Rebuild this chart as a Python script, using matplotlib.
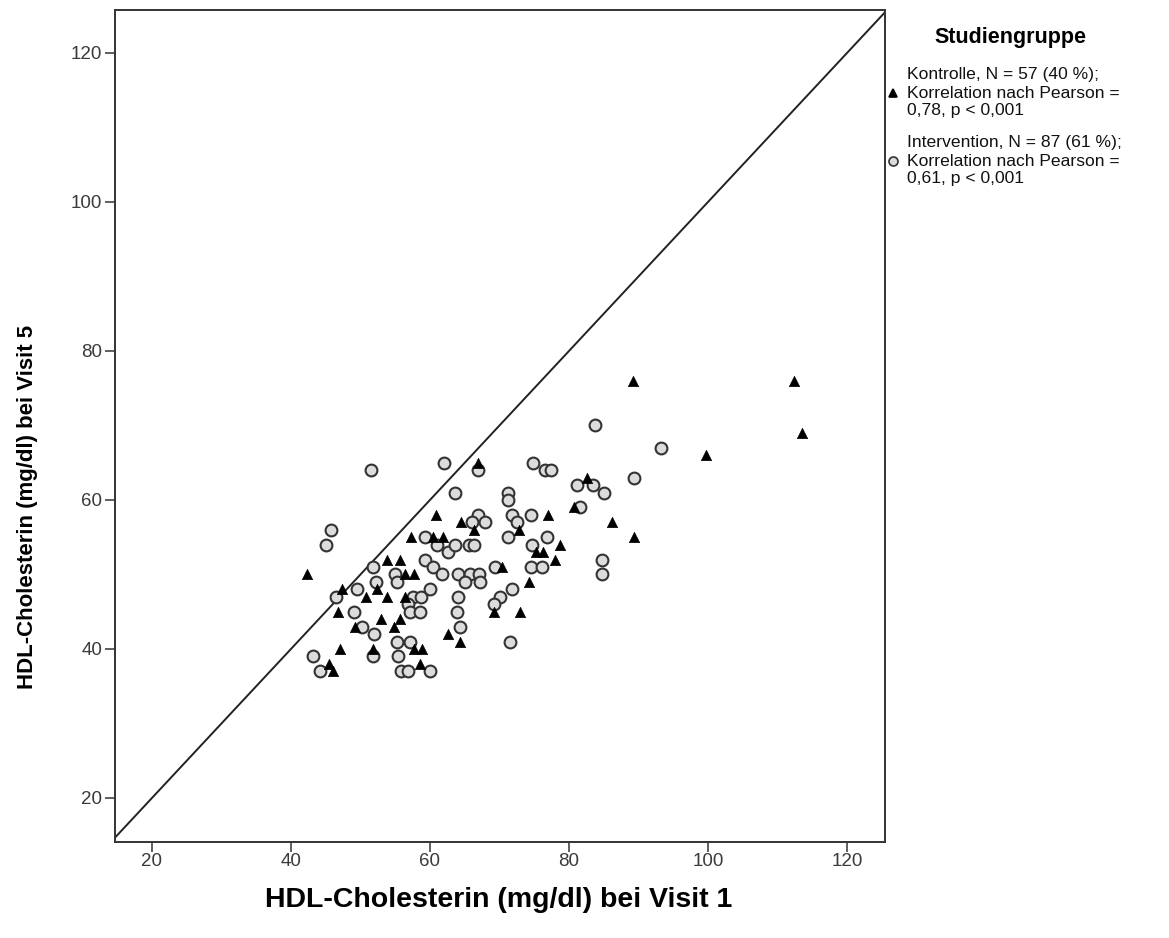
import matplotlib
matplotlib.use("Agg")
import matplotlib.pyplot as plt
from matplotlib.lines import Line2D

# Kontrolle (triangles): HDL visit 1, HDL visit 5
kontrolle_v1 = [42.3, 60.9, 57.3, 60.4, 61.9, 53.8, 55.7, 66.9, 64.5, 66.3, 82.6, 80.7, 77.0, 86.2,
                72.8, 78.7, 75.3, 76.3, 78.0, 89.4, 89.2, 112.4, 113.5, 99.7, 56.4, 57.7, 47.3, 50.8,
                52.4, 53.8, 56.4, 46.8, 53.0, 55.7, 54.8, 49.2, 62.6, 64.3, 57.7, 58.8, 47.1, 51.8,
                45.5, 46.0, 58.6, 70.4, 74.2, 69.2, 73.0]
kontrolle_v5 = [50, 58, 55, 55, 55, 52, 52, 65, 57, 56, 63, 59, 58, 57,
                56, 54, 53, 53, 52, 55, 76, 76, 69, 66, 50, 50, 48, 47,
                48, 47, 47, 45, 44, 44, 43, 43, 42, 41, 40, 40, 40, 40,
                38, 37, 38, 51, 49, 45, 45]

# Intervention (circles)
intervention_v1 = [51.5, 62.0, 63.6, 45.8, 45.0, 59.3, 61.0, 62.6, 66.9, 66.9, 66.0, 67.9, 63.6, 65.6,
                   66.3, 59.3, 60.4, 61.7, 51.8, 74.8, 76.5, 77.4, 81.2, 83.5, 85.0, 71.2, 71.2, 81.6,
                   71.8, 74.5, 72.5, 71.2, 76.8, 74.7, 84.7, 83.7, 93.2, 89.4, 69.4, 74.5, 76.1, 84.7,
                   55.0, 55.3, 52.2, 49.5, 46.5, 57.6, 58.7, 60.0, 56.8, 57.1, 58.6, 49.1, 50.2, 51.9,
                   55.3, 57.1, 51.8, 55.4, 43.2, 44.2, 55.8, 56.8, 60.0, 64.0, 65.8, 67.1, 65.0, 67.2,
                   71.8, 70.1, 69.2, 64.0, 63.9, 64.3, 71.5]
intervention_v5 = [64, 65, 61, 56, 54, 55, 54, 53, 64, 58, 57, 57, 54, 54,
                   54, 52, 51, 50, 51, 65, 64, 64, 62, 62, 61, 61, 60, 59,
                   58, 58, 57, 55, 55, 54, 52, 70, 67, 63, 51, 51, 51, 50,
                   50, 49, 49, 48, 47, 47, 47, 48, 46, 45, 45, 45, 43, 42,
                   41, 41, 39, 39, 39, 37, 37, 37, 37, 50, 50, 50, 49, 49,
                   48, 47, 46, 47, 45, 43, 41]

ticks = [20, 40, 60, 80, 100, 120]
x_label = "HDL-Cholesterin (mg/dl) bei Visit 1"
y_label = "HDL-Cholesterin (mg/dl) bei Visit 5"
legend_title = "Studiengruppe"
legend_k = ["Kontrolle, N = 57 (40 %);", "Korrelation nach Pearson =", "0,78, p < 0,001"]
legend_i = ["Intervention, N = 87 (61 %);", "Korrelation nach Pearson =", "0,61, p < 0,001"]

plt.rcParams['font.family'] = ['Liberation Sans', 'DejaVu Sans']

W, H = 1169, 938
fig = plt.figure(figsize=(W / 100, H / 100), dpi=100)
AX_L, AX_R, AX_T, AX_B = 115, 885, 10, 842
ax = fig.add_axes([AX_L / W, 1 - AX_B / H, (AX_R - AX_L) / W, (AX_B - AX_T) / H])
ax.set_xlim(14.68, 125.47)
ax.set_ylim(14.09, 125.77)

ax.axline((20, 20), slope=1, color='#222222', lw=1.4, zorder=1)

ax.scatter(intervention_v1, intervention_v5, s=72, marker='o', facecolor='#dcdcdc',
           edgecolor='#333333', linewidths=1.5, zorder=3)
ax.scatter(kontrolle_v1, kontrolle_v5, s=55, marker='^', facecolor='black',
           edgecolor='black', linewidths=0.5, zorder=4)

ax.set_xticks(ticks)
ax.set_yticks(ticks)
ax.tick_params(axis='both', direction='out', length=7, width=1.2, color='#444444',
               labelsize=13.5, labelcolor='#3a3a3a')
ax.tick_params(axis='x', pad=1)
ax.tick_params(axis='y', pad=2)
for sp in ax.spines.values():
    sp.set_linewidth(1.4)
    sp.set_color('#333333')

ax.set_xlabel(x_label, fontsize=20.5, fontweight='bold')
ax.xaxis.set_label_coords((499 - AX_L) / (AX_R - AX_L), -(900 - AX_B) / (AX_B - AX_T))
ax.xaxis.label.set_verticalalignment('center')
ax.set_ylabel(y_label, fontsize=16, fontweight='bold')
ax.yaxis.set_label_coords(-(AX_L - 28) / (AX_R - AX_L), (AX_B - 507) / (AX_B - AX_T))
ax.yaxis.label.set_verticalalignment('center')

# legend
fig.text(1010 / W, 1 - 38 / H, legend_title, ha='center', va='center', fontsize=15.5,
         fontweight='bold')

def entry(lines, y_mid, marker, fc, ec, ms):
    for i, t in enumerate(lines):
        fig.text(907 / W, 1 - (y_mid + (i - 1) * 18) / H, t, ha='left', va='center',
                 fontsize=12.6, color='#111111')
    fig.add_artist(Line2D([893 / W], [1 - y_mid / H], transform=fig.transFigure,
                          marker=marker, markersize=ms, markerfacecolor=fc,
                          markeredgecolor=ec, markeredgewidth=1.2, linestyle='none'))

entry(legend_k, 93, '^', 'black', 'black', 6)
entry(legend_i, 161, 'o', '#dcdcdc', '#333333', 6.5)

fig.savefig("out.png", dpi=100)
